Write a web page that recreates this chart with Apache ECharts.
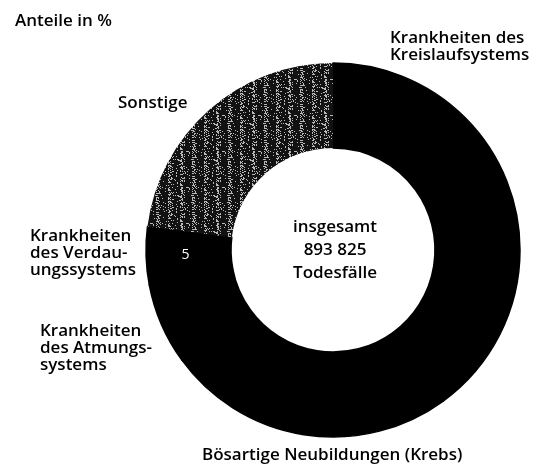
<!DOCTYPE html>
<html>
<head>
<meta charset="utf-8">
<script src="https://cdn.jsdelivr.net/npm/echarts@6/dist/echarts.min.js"></script>
<style>
  html, body { margin: 0; padding: 0; background: #fff; }
  #chart { width: 537px; height: 466px; }
</style>
</head>
<body>
<div id="chart"></div>
<script>
// Daten: Sterbefälle nach Todesursachen, Anteile in %
const causes = [
  'Krankheiten des\nKreislaufsystems',
  'Bösartige Neubildungen (Krebs)',
  'Krankheiten\ndes Atmungs-\nsystems',
  'Krankheiten\ndes Verdau-\nungssystems',
  'Sonstige'
];
const shares = [40, 25, 7, 5, 23];
const totalText = 'insgesamt\n893 825\nTodesfälle';

// Lage der Beschriftungen (links ausgerichtet, vertikal mittig)
const labelPos = [[390, 47], [202, 455], [40, 348], [30, 253], [118, 103]];
const labelLineHeight = [25, 20, 24, 24, 20];

// Rasterfläche für "Sonstige" (gescanntes Grau nachempfunden)
function makePattern() {
  const c = document.createElement('canvas');
  c.width = 36; c.height = 36;
  const ctx = c.getContext('2d');
  const img = ctx.createImageData(36, 36);
  for (let y = 0; y < 36; y++) {
    for (let x = 0; x < 36; x++) {
      const col = x % 12;
      const band = col < 3 ? 0.42 : (col < 5 ? 0.2 : 0.07);
      const h = ((x * 73856093) ^ (y * 19349663) ^ ((x + 7) * (y + 3) * 83492791)) >>> 0;
      const light = (h % 1000) / 1000 < band;
      const v = light ? 185 : 18;
      const i = (y * 36 + x) * 4;
      img.data[i] = v; img.data[i + 1] = v; img.data[i + 2] = v; img.data[i + 3] = 255;
    }
  }
  ctx.putImageData(img, 0, 0);
  return c;
}

const chart = echarts.init(document.getElementById('chart'));
const font = '"Open Sans", sans-serif';

const data = causes.map((name, i) => ({
  name: name,
  value: shares[i],
  itemStyle: i === 4
    ? { color: { image: makePattern(), repeat: 'repeat' }, borderWidth: 0 }
    : { color: '#000', borderColor: '#000', borderWidth: 1.5 }
}));

chart.setOption({
  animation: false,
  title: {
    text: 'Anteile in %',
    left: 15, top: 13, padding: 0,
    textStyle: { fontFamily: font, fontSize: 17, fontWeight: 600, color: '#000' }
  },
  graphic: [{
    type: 'text',
    x: 335, y: 250,
    style: {
      text: totalText,
      fontFamily: font, fontSize: 17, fontWeight: 600, lineHeight: 23,
      fill: '#000', align: 'center', verticalAlign: 'middle'
    }
  }],
  series: [
    {
      type: 'pie',
      center: [333, 250],
      radius: [102, 187],
      startAngle: 90,
      clockwise: true,
      avoidLabelOverlap: false,
      silent: true,
      data: data,
      label: {
        show: true,
        position: 'outside',
        formatter: '{b}',
        fontFamily: font, fontSize: 17, fontWeight: 600, color: '#000'
      },
      labelLine: { show: false },
      labelLayout: function (p) {
        const i = p.dataIndex;
        return {
          x: labelPos[i][0], y: labelPos[i][1],
          align: 'left', verticalAlign: 'middle',
          lineHeight: labelLineHeight[i]
        };
      }
    },
    {
      // Werte im Ring (nur der lesbare Wert "5")
      type: 'pie',
      center: [333, 250],
      radius: [102, 187],
      startAngle: 90,
      clockwise: true,
      silent: true,
      data: causes.map((name, i) => ({
        name: name, value: shares[i],
        itemStyle: { color: 'rgba(0,0,0,0)', borderWidth: 0 },
        label: { show: i === 3 }
      })),
      label: {
        position: 'inside',
        formatter: '{c}',
        fontFamily: font, fontSize: 14, color: '#fff'
      },
      labelLine: { show: false }
    }
  ]
});
</script>
</body>
</html>
